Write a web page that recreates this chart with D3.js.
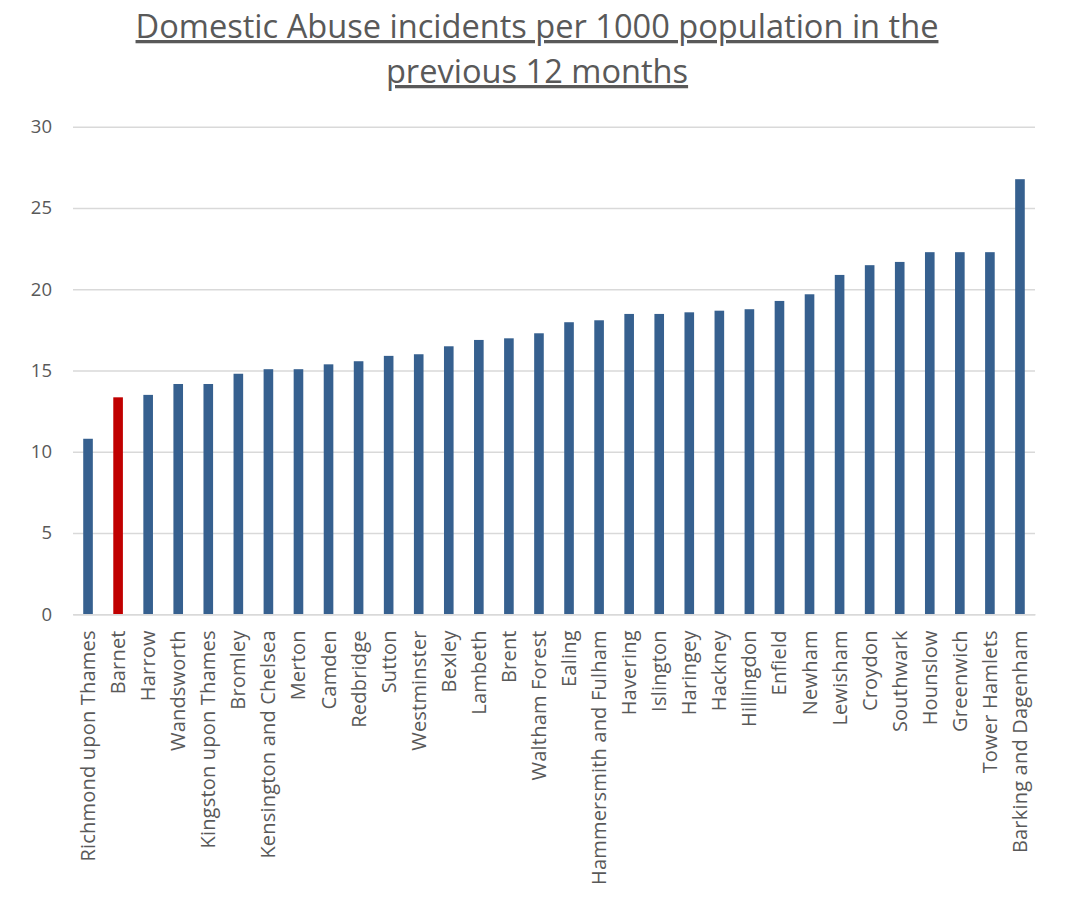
<!DOCTYPE html>
<html>
<head>
<meta charset="utf-8">
<script src="https://cdn.jsdelivr.net/npm/d3@7"></script>
<style>
  body { margin: 0; background: #fff; }
  text { font-family: "Open Sans", sans-serif; fill: #595959; }
</style>
</head>
<body>
<div id="chart"></div>
<script>
// boroughs, sorted as in the source
const boroughs = [
  'Richmond upon Thames', 'Barnet', 'Harrow', 'Wandsworth', 'Kingston upon Thames',
  'Bromley', 'Kensington and Chelsea', 'Merton', 'Camden', 'Redbridge', 'Sutton',
  'Westminster', 'Bexley', 'Lambeth', 'Brent', 'Waltham Forest', 'Ealing',
  'Hammersmith and Fulham', 'Havering', 'Islington', 'Haringey', 'Hackney',
  'Hillingdon', 'Enfield', 'Newham', 'Lewisham', 'Croydon', 'Southwark',
  'Hounslow', 'Greenwich', 'Tower Hamlets', 'Barking and Dagenham'
];
const rates = [
  10.8, 13.35, 13.5, 14.17, 14.17,
  14.8, 15.08, 15.08, 15.38, 15.57, 15.9,
  16.0, 16.49, 16.88, 16.98, 17.29, 17.97,
  18.09, 18.48, 18.48, 18.58, 18.68,
  18.77, 19.28, 19.69, 20.88, 21.48, 21.68,
  22.28, 22.28, 22.28, 26.77
];
const highlight = 'Barnet';
const yTicks = [0, 5, 10, 15, 20, 25, 30];
const titleLines = ['Domestic Abuse incidents per 1000 population in the', 'previous 12 months'];

const width = 1068, height = 904;
const margin = {left: 73, right: 33, top: 126.7, bottom: 289.7};

const svg = d3.select('#chart').append('svg')
  .attr('width', width)
  .attr('height', height);

const g = svg.append('g')
  .attr('transform', `translate(${margin.left},${margin.top})`);

const innerW = width - margin.left - margin.right;
const innerH = height - margin.top - margin.bottom;

const x = d3.scaleBand().domain(boroughs).range([0, innerW]).paddingInner(0.68).paddingOuter(0.34);
const y = d3.scaleLinear().domain([0, 30]).range([innerH, 0]);

// gridlines + y labels
const yAxis = g.append('g')
  .call(d3.axisLeft(y).tickValues(yTicks).tickSize(-innerW).tickPadding(21));
yAxis.select('.domain').remove();
yAxis.selectAll('line').attr('stroke', '#d9d9d9').attr('stroke-width', 1.5);
yAxis.selectAll('text').style('font-size', '18.5px').attr('fill', '#595959');

// bars
g.selectAll('rect.bar')
  .data(boroughs)
  .join('rect')
  .attr('class', 'bar')
  .attr('x', d => x(d))
  .attr('width', x.bandwidth())
  .attr('y', (d, i) => y(rates[i]))
  .attr('height', (d, i) => y(0) - y(rates[i]))
  .attr('fill', d => d === highlight ? '#c00000' : '#36608f');

// x axis
const xAxis = g.append('g')
  .attr('transform', `translate(0,${innerH})`)
  .call(d3.axisBottom(x).tickSize(0).tickPadding(0));
xAxis.select('.domain').attr('stroke', '#d9d9d9').attr('stroke-width', 1.5);
xAxis.selectAll('text')
  .style('font-size', '20px')
  .style('letter-spacing', '0.2px')
  .attr('fill', '#595959')
  .attr('text-anchor', 'end')
  .attr('dy', '0.35em')
  .attr('transform', 'translate(0,16) rotate(-90)');

// title
svg.append('g').selectAll('text')
  .data(titleLines)
  .join('text')
  .attr('x', 537)
  .attr('y', (d, i) => 38 + i * 45)
  .attr('text-anchor', 'middle')
  .style('font-size', '32.6px')
  .style('text-decoration', 'underline')
  .text(d => d);
</script>
</body>
</html>
